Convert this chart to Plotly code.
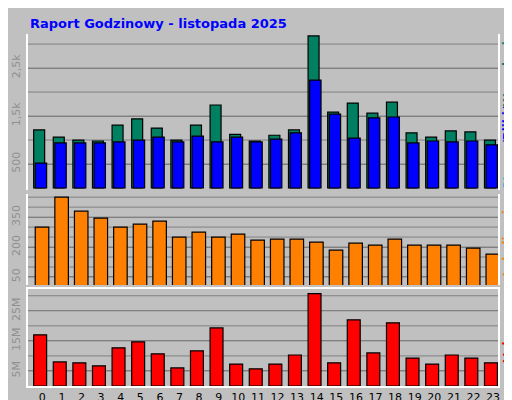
import plotly.graph_objects as go

hours = list(range(24))
wywolania = [1210, 1060, 1000, 980, 1310, 1440, 1250, 1000, 1310, 1730, 1120, 980,
             1100, 1210, 3170, 1580, 1770, 1560, 1790, 1150, 1060, 1190, 1170, 1000]
pliki = [520, 940, 940, 940, 960, 1000, 1060, 960, 1080, 960, 1060, 960,
         1020, 1150, 2250, 1540, 1040, 1460, 1480, 940, 980, 960, 980, 900]
lokalizacje = [300, 450, 380, 345, 300, 315, 330, 250, 275, 250, 265, 235,
               240, 240, 225, 185, 220, 210, 240, 210, 210, 210, 195, 165]
volume_m = [17, 8, 7.7, 6.7, 12.7, 14.7, 10.7, 6, 11.7, 19.3, 7.3, 5.7,
            7.3, 10.3, 30.7, 7.7, 22, 11, 21, 9.3, 7.3, 10.3, 9.3, 7.7]
volume = [v * 1e6 for v in volume_m]

line = dict(color="black", width=1.2)
fig = go.Figure()
fig.add_bar(x=hours, y=wywolania, marker=dict(color="#008060", line=line),
            offset=-0.44, width=0.56, yaxis="y3", xaxis="x")
fig.add_bar(x=hours, y=pliki, marker=dict(color="#0000ff", line=line),
            offset=-0.36, width=0.58, yaxis="y3", xaxis="x")
fig.add_bar(x=hours, y=lokalizacje, marker=dict(color="#ff8000", line=line),
            offset=-0.36, width=0.69, yaxis="y2", xaxis="x")
fig.add_bar(x=hours, y=volume, marker=dict(color="#ff0000", line=line),
            offset=-0.44, width=0.66, yaxis="y", xaxis="x")

grid = dict(showgrid=True, gridcolor="#808080", gridwidth=1, zeroline=False, automargin=False,
            tickangle=-90, tickfont=dict(family="DejaVu Sans", size=11, color="#909090"),
            showline=True, linecolor="white", mirror=True, linewidth=2, ticks="", ticklabelstandoff=2)
fig.update_layout(
    width=512, height=400, barmode="overlay", showlegend=False,
    paper_bgcolor="#c0c0c0", plot_bgcolor="#c0c0c0",
    margin=dict(l=20, r=22, t=26, b=22, autoexpand=False),
    xaxis=dict(range=[-0.73, 23.25], tickvals=hours, showgrid=False, zeroline=False, automargin=False,
               tickfont=dict(family="DejaVu Sans", size=11, color="black"),
               showline=True, linecolor="white", linewidth=2, mirror=True),
    yaxis=dict(domain=[0, 0.276], range=[0, 32.3e6],
               tickvals=[5e6, 15e6, 25e6], ticktext=["5M", "15M", "25M"], **grid),
    yaxis2=dict(domain=[0.287, 0.545], range=[10, 465], anchor="x",
                tickvals=[50, 200, 350], **grid),
    yaxis3=dict(domain=[0.557, 1], range=[-40, 3210], anchor="x",
                tickvals=[500, 1500, 2500], ticktext=["500", "1,5k", "2,5k"], **grid),
)
# extra gridlines every 50 / 500 / 5M
for yref, vals in [("y3", range(500, 3500, 500)), ("y2", range(50, 500, 50)),
                   ("y", [5e6 * i for i in range(1, 7)])]:
    for v in vals:
        fig.add_shape(type="line", xref="x domain", yref=yref, x0=0, x1=1, y0=v, y1=v,
                      line=dict(color="#808080", width=1), layer="below")

fig.add_annotation(text="<b>Raport Godzinowy - listopada 2025</b>", xref="paper", yref="paper",
                   x=0, y=1, yshift=20, xanchor="left", yanchor="top", showarrow=False,
                   font=dict(family="DejaVu Sans", size=13, color="#0000ff"))
side = dict(xref="paper", yref="paper", x=1, xshift=10, xanchor="center", yanchor="middle",
            showarrow=False, textangle=-90, font=dict(family="DejaVu Sans", size=12, weight="bold"))
fig.add_annotation(text='<span style="color:#00c0c0">Strony</span><span style="color:#0000ff">/Pliki/</span>'
                   '<span style="color:#008060">Wywołania</span>', y=0.78, **side)
fig.add_annotation(text='<span style="color:#ff8000">Lokalizacje</span>', y=0.416, **side)
fig.add_annotation(text='<span style="color:#ff0000">Volume</span>', y=0.138, **side)
fig.write_html("out.html")
